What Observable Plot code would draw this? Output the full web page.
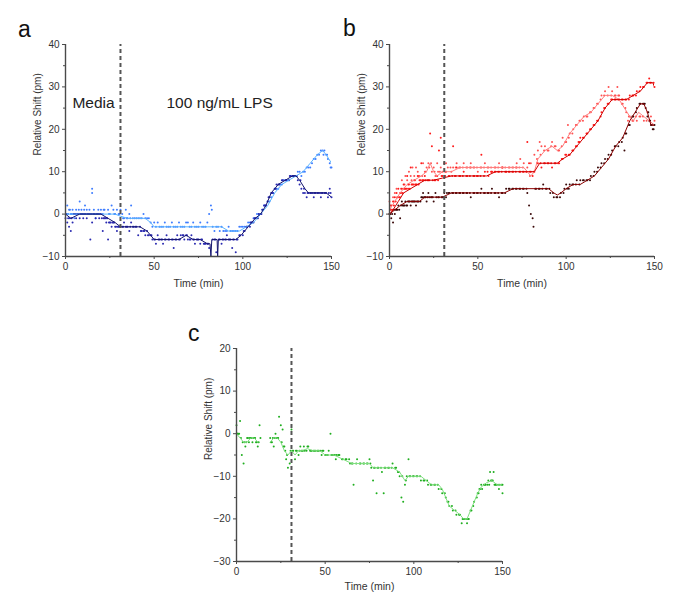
<!DOCTYPE html>
<html><head><meta charset="utf-8">
<script src="https://cdn.jsdelivr.net/npm/d3@7"></script>
<script src="https://cdn.jsdelivr.net/npm/@observablehq/plot@0.6"></script>
<style>
body{margin:0;background:#fff;font-family:"Liberation Sans",Arial,sans-serif;}
#wrap{position:relative;width:697px;height:604px;background:#fff;overflow:hidden;}
.panel{position:absolute;overflow:hidden;}
.letter{position:absolute;font-size:23px;color:#111;line-height:1;}
</style></head><body>
<div id="wrap">
  <div class="letter" style="left:18px;top:18px;">a</div>
  <div class="letter" style="left:343px;top:17px;">b</div>
  <div class="letter" style="left:188px;top:322px;">c</div>
</div>
<script>
// ---------- data (time in min, relative shift in pm) ----------
const lpsTime = 31;
const xTicks = [0, 50, 100, 150];
const xMinor = [25, 75, 125];
const yTicksAB = [-10, 0, 10, 20, 30, 40];
const yMinorAB = [-5, 5, 15, 25, 35];
const yTicksC = [-30, -20, -10, 0, 10, 20];
const yMinorC = [-25, -15, -5, 5, 15];
const annotA = [{t: 15.8, v: 26.3, label: "Media"}, {t: 86.9, v: 26.3, label: "100 ng/mL LPS"}];

// panel a – light blue cell
const aLightLine = [[0,0],[10,0],[20,0],[28,0],[31,-0.5],[35,-1],[45,-1],[48,-2],[50,-3],[60,-3],[70,-3],[80,-3],[88,-3],[92,-4],[98,-4],[102,-3],[106,-2],[110,0],[114,2],[118,5],[122,7],[126,8],[130,9],[134,10],[138,12],[142,14],[145,15],[147,14],[150,12]];
const aLightPts = [[1,2],[2,1],[3,0],[4,1],[5,-1],[6,1],[8,3],[9,1],[10,0],[11,2],[12,1],[14,0],[15,6],[15,5],[16,1],[17,-1],[18,0],[20,1],[21,0],[22,1],[23,-1],[24,1],[25,0],[26,2],[27,1],[28,0],[29,1],[30,0],[31,1],[32,0],[33,-1],[34,1],[35,-1],[36,0],[37,2],[38,-1],[40,-1],[42,-1],[44,0],[46,-1],[48,-2],[49,-3],[50,-2],[52,-2],[54,-3],[56,-2],[58,-3],[60,-2],[62,-3],[64,-2],[66,-3],[68,-2],[70,-3],[72,-2],[74,-3],[76,-2],[78,-3],[80,-2],[81,0],[82,2],[82.5,1],[83,-3],[84,-4],[86,-3],[88,-3],[90,-4],[92,-3],[94,-4],[96,-4],[98,-3],[100,-3],[102,-3],[104,-2],[106,-1],[108,0],[110,0],[112,2],[114,3],[116,4],[117,5],[118,6],[120,6],[121,7],[123,8],[125,8],[127,9],[129,9],[131,10],[133,9],[135,10],[137,11],[139,12],[141,13],[142,14],[143,14],[144,15],[146,15],[147,14],[148,13],[149,12],[150,11]];
const aLightPts2 = [[0.5,0],[1.5,0],[2.5,1],[3.5,0],[4.5,0],[5.5,0],[6.5,0],[7.5,1],[8.5,0],[9.5,0],[10.5,1],[12.5,0],[13.5,1],[16.5,0],[18.5,1],[19.5,0],[21.5,1],[24.5,0],[27.5,0],[30.5,0],[32.5,-1],[34.5,-1],[36.5,-1],[39,-1],[41,-1],[43,-1],[45,-1],[47,-1],[51,-3],[53,-3],[55,-3],[57,-3],[59,-3],[61,-3],[63,-3],[65,-3],[67,-3],[69,-2],[71,-3],[73,-3],[75,-3],[77,-3],[79,-3],[85,-3],[87,-4],[89,-4],[91,-4],[93,-4],[95,-4],[97,-4],[99,-3],[101,-3],[103,-2],[105,-2],[107,-1],[109,0],[111,1],[113,2],[115,3],[119,6],[122,7],[124,8],[126,8],[128,9],[130,9],[132,10],[134,10],[136,11],[138,11],[140,13],[145,15],[145.5,14],[147.5,14],[149.5,11]];
// panel a – dark blue cell
const aDarkLine = [[0,0],[3,-1],[8,0],[15,0],[20,0],[24,-1],[28,-2],[31,-3],[38,-3],[42,-3],[46,-4],[50,-6],[55,-6],[60,-6],[64,-6],[68,-5],[72,-6],[76,-6],[80,-7],[81.5,-7],[82,-10],[82.5,-6],[85.5,-6],[85.8,-10],[86.2,-6],[90,-6],[96,-6],[99,-5],[103,-3],[107,-1],[110,0],[113,2],[116,5],[120,7],[124,8],[128,9],[130,9],[132,8],[135,6],[137,5],[142,5],[147,5],[150,4]];
const aDarkPts = [[0,-1],[1,-2],[2,-3],[3,-4],[4,-2],[5,0],[6,-1],[7,0],[8,-1],[9,0],[10,-1],[11,0],[12,-1],[13,0],[14,-6],[15,-2],[16,0],[17,-1],[18,0],[19,-1],[20,0],[21,-4],[22,-1],[23,-2],[24,-6],[25,-2],[26,-3],[27,-2],[28,-3],[29,-4],[30,-3],[31,-6],[32,-3],[33,-2],[34,-3],[35,-3],[36,-4],[37,-2],[38,-3],[40,-3],[41,-5],[42,-3],[43,-4],[44,-4],[45,-5],[46,-4],[47,-5],[48,-5],[49,-6],[50,-6],[51,-7],[52,-5],[53,-6],[54,-6],[55,-7],[56,-6],[57,-5],[58,-6],[60,-6],[61,-8],[62,-6],[63,-5],[64,-6],[65,-5],[66,-5],[67,-6],[68,-5],[69,-6],[70,-6],[71,-5],[72,-6],[73,-7],[74,-6],[75,-6],[76,-7],[77,-6],[78,-7],[79,-7],[80,-7],[81,-8],[83,-6],[84,-6],[85,-9],[87,-6],[88,-7],[89,-6],[90,-6],[91,-5],[92,-6],[93,-6],[94,-8],[95,-6],[96,-9],[97,-6],[98,-5],[100,-5],[101,-4],[102,-3],[104,-3],[105,-2],[106,-2],[107,-1],[108,-1],[109,0],[110,0],[111,1],[112,2],[113,2],[114,3],[115,4],[116,5],[117,5],[118,6],[119,7],[120,7],[122,8],[124,8],[126,8],[127,9],[128,9],[129,9],[130,9],[131,8],[132,7],[133,6],[134,5],[135,5],[136,4],[137,5],[138,5],[140,4],[141,5],[142,5],[144,4],[145,5],[146,5],[147,5],[148,4],[149,6],[150,4]];
const aDarkPts2 = [[0.5,0],[1.5,-1],[2.5,-1],[3.5,-1],[4.5,0],[5.5,0],[6.5,0],[7.5,0],[8.5,0],[9.5,0],[10.5,0],[11.5,0],[12.5,0],[13.5,0],[14.5,0],[15.5,0],[16.5,0],[17.5,0],[18.5,0],[19.5,0],[20.5,-1],[21.5,-1],[22.5,-1],[23.5,-1],[24.5,-2],[25.5,-2],[26.5,-2],[27.5,-2],[28.5,-3],[29.5,-3],[30.5,-3],[32.5,-3],[34.5,-3],[36.5,-3],[38.5,-3],[39.5,-3],[42.5,-4],[44.5,-4],[46.5,-5],[48.5,-5],[50.5,-6],[52.5,-6],[54.5,-6],[56.5,-6],[58.5,-6],[60.5,-6],[62.5,-6],[64.5,-6],[66.5,-5],[68.5,-5],[70.5,-6],[72.5,-6],[74.5,-6],[76.5,-6],[78.5,-7],[80.5,-7],[84.5,-6],[86.5,-6],[88.5,-6],[90.5,-6],[92.5,-6],[94.5,-6],[96.5,-6],[98.5,-5],[100.5,-4],[102.5,-3],[104.5,-2],[106.5,-1],[108.5,-1],[110.5,0],[112.5,2],[114.5,4],[116.5,5],[118.5,6],[120.5,7],[122.5,8],[124.5,8],[126.5,9],[128.5,9],[130.5,9],[132.5,8],[134.5,6],[136.5,5],[138.5,5],[139.5,5],[140.5,5],[142.5,5],[143.5,5],[144.5,5],[146.5,5],[148.5,5],[149.5,5]];

// panel b – red cell
const bRedLine = [[0,0],[2,1],[5,3],[8,5],[12,6],[16,7],[20,8],[25,8],[30,8.5],[35,9],[45,9],[55,9],[60,10],[70,10],[80,10],[82,10],[85,12],[95,12],[98,13],[102,14],[106,16],[110,18],[114,20],[118,22],[122,25],[126,27],[130,27],[134,27],[138,28],[142,29],[146,31],[149,31],[150,30]];
const bRedPts = [[0,0],[1,2],[2,3],[3,4],[4,5],[5,6],[6,5],[7,6],[8,7],[9,6],[10,9],[11,7],[12,11],[13,7],[14,8],[15,7],[16,9],[17,8],[18,12],[19,8],[20,9],[22,8],[23,19],[24,16],[26,8],[27,9],[28,15],[29,18],[30,9],[31,12],[32,10],[34,9],[36,16],[37,9],[38,11],[40,9],[42,10],[44,9],[46,11],[48,9],[50,9],[52,14],[54,10],[56,9],[58,10],[60,10],[62,10],[64,11],[66,10],[68,10],[70,10],[72,11],[74,10],[76,10],[78,17],[79,12],[80,10],[81,9],[82,10],[84,12],[86,11],[88,12],[90,12],[92,11],[94,12],[96,12],[98,13],[100,14],[102,14],[104,15],[106,16],[107,17],[108,18],[110,18],[112,19],[114,20],[116,21],[118,22],[120,24],[122,25],[124,26],[126,27],[128,27],[130,27],[132,27],[134,27],[136,28],[138,28],[140,29],[142,30],[144,30],[146,31],[147,32],[148,31],[150,30]];
const bRedPts2 = [[0.5,1],[1.5,1],[2.5,2],[3.5,3],[4.5,4],[5.5,4],[6.5,5],[7.5,5],[8.5,6],[9.5,6],[10.5,6],[11.5,6],[12.5,7],[13.5,7],[14.5,7],[15.5,7],[16.5,7],[17.5,8],[18.5,8],[19.5,8],[20.5,8],[21.5,8],[22.5,8],[24.5,8],[25.5,8],[27.5,8],[29.5,9],[31.5,9],[33.5,9],[35.5,9],[37.5,9],[39.5,9],[41.5,9],[43.5,9],[45.5,9],[47.5,9],[49.5,9],[51.5,9],[53.5,9],[55.5,10],[57.5,10],[59.5,10],[61.5,10],[63.5,10],[65.5,10],[67.5,10],[69.5,10],[71.5,10],[73.5,10],[75.5,10],[77.5,10],[79.5,10],[83.5,12],[85.5,12],[87.5,12],[89.5,12],[91.5,12],[93.5,12],[95.5,12],[97.5,13],[99.5,14],[101.5,14],[103.5,15],[105.5,16],[107.5,17],[109.5,18],[111.5,19],[113.5,20],[115.5,21],[117.5,22],[119.5,23],[121.5,25],[123.5,26],[125.5,27],[127.5,27],[129.5,27],[131.5,27],[133.5,27],[135.5,27],[137.5,28],[139.5,28],[141.5,29],[143.5,30],[145.5,31],[147.5,31],[149.5,31]];
// panel b – pink cell
const bPinkLine = [[0,1],[3,3],[6,5],[10,7],[14,8],[18,9],[21,10],[23,12],[25,10],[27,9],[30,10],[35,10],[40,11],[50,11],[60,11],[70,11],[76,11],[80,9],[82,10],[84,13],[88,15],[92,16],[95,15],[98,16],[102,19],[106,21],[110,23],[114,24],[118,26],[122,28],[126,28],[130,27],[133,25],[136,23],[138,22],[141,24],[144,23],[147,22],[150,21]];
const bPinkPts = [[0,3],[1,1],[2,4],[3,5],[4,6],[6,4],[7,8],[8,6],[9,9],[10,8],[11,10],[12,9],[13,11],[14,9],[15,11],[16,10],[17,9],[19,12],[20,10],[21,11],[22,12],[24,10],[25,11],[26,9],[27,12],[29,11],[30,10],[32,12],[33,11],[35,10],[36,11],[38,12],[40,11],[42,12],[44,11],[46,12],[48,11],[50,10],[52,11],[54,12],[56,11],[58,10],[60,11],[62,12],[64,11],[66,10],[68,11],[70,11],[72,12],[74,13],[76,12],[78,11],[80,12],[82,14],[84,15],[85,17],[86,16],[88,16],[90,15],[92,17],[94,16],[96,15],[98,18],[100,17],[101,21],[102,19],[104,20],[106,21],[108,22],[110,23],[112,23],[114,24],[116,25],[118,26],[120,28],[122,29],[124,30],[126,29],[128,28],[129,30],[130,28],[132,26],[134,24],[135,22],[136,23],[138,22],[140,22],[142,23],[144,22],[146,24],[148,23],[150,22]];
const bPinkPts2 = [[0.5,2],[2.5,3],[4.5,4],[6.5,6],[8.5,7],[10.5,7],[12.5,8],[14.5,8],[16.5,9],[18.5,9],[20.5,10],[22.5,11],[23.5,12],[25.5,10],[27.5,10],[28.5,10],[31.5,10],[34.5,11],[37.5,11],[39.5,11],[41.5,11],[43.5,11],[45.5,11],[47.5,11],[49.5,11],[51.5,11],[53.5,11],[55.5,11],[57.5,11],[59.5,11],[61.5,11],[63.5,11],[65.5,11],[67.5,11],[69.5,11],[71.5,11],[73.5,11],[75.5,11],[77.5,10],[79.5,9],[81.5,10],[83.5,13],[85.5,14],[87.5,15],[89.5,15],[91.5,16],[93.5,16],[95.5,15],[97.5,16],[99.5,17],[101.5,18],[103.5,19],[105.5,21],[107.5,22],[109.5,22],[111.5,23],[113.5,24],[115.5,25],[117.5,26],[119.5,27],[121.5,28],[123.5,28],[125.5,28],[127.5,28],[129.5,28],[131.5,26],[133.5,25],[135.5,23],[137.5,22],[139.5,23],[141.5,23],[143.5,23],[145.5,22],[147.5,22],[149.5,21]];
// panel b – dark cell
const bDarkLine = [[0,0],[3,1],[6,2],[10,3],[14,3],[17,3],[20,4],[25,4],[30,4],[35,5],[45,5],[55,5],[65,5],[70,6],[75,6],[85,6],[90,6],[93,5],[95,4.5],[97,5],[100,6],[104,7],[108,7],[112,8],[116,9],[120,11],[124,13],[128,16],[132,18],[136,22],[139,24],[142,26],[144,26],[146,24],[148,21],[150,21]];
const bDarkPts = [[0,0],[1,-1],[2,-2],[3,0],[4,1],[5,2],[6,-1],[7,3],[8,2],[9,3],[10,2],[11,3],[12,2],[13,3],[14,3],[15,2],[16,3],[18,4],[19,5],[20,4],[21,3],[22,5],[24,4],[25,3],[26,5],[28,4],[30,4],[31,5],[32,4],[34,5],[36,5],[38,5],[40,5],[42,5],[44,5],[46,4],[48,5],[50,5],[52,6],[54,5],[56,5],[58,6],[60,5],[62,4],[64,5],[66,6],[68,6],[70,6],[72,6],[74,6],[76,6],[78,5],[79,2],[80,0],[81,-1],[81.5,-3],[83,6],[85,6],[87,7],[89,6],[91,5],[93,4],[95,4],[97,5],[99,6],[100,7],[102,7],[104,7],[106,8],[108,8],[110,8],[112,8],[114,9],[116,10],[118,11],[120,12],[122,13],[124,14],[126,15],[128,16],[130,17],[132,18],[133,15],[134,19],[136,21],[138,23],[140,25],[142,26],[144,26],[145,25],[146,23],[147,22],[148,21],[149,20],[150,21]];
const bDarkPts2 = [[0.5,0],[1.5,0],[2.5,1],[3.5,1],[4.5,1],[5.5,1],[6.5,2],[7.5,2],[8.5,2],[9.5,2],[10.5,3],[11.5,3],[12.5,3],[13.5,3],[14.5,3],[15.5,3],[16.5,3],[17.5,3],[18.5,4],[19.5,4],[20.5,4],[21.5,4],[22.5,4],[23.5,4],[24.5,4],[26.5,4],[27.5,4],[29.5,4],[30.5,4],[32.5,5],[33.5,5],[35.5,5],[37.5,5],[39.5,5],[41.5,5],[43.5,5],[45.5,5],[47.5,5],[49.5,5],[51.5,5],[53.5,5],[55.5,5],[57.5,5],[59.5,5],[61.5,5],[63.5,5],[65.5,5],[67.5,6],[69.5,6],[71.5,6],[73.5,6],[75.5,6],[77.5,6],[82.5,6],[84.5,6],[86.5,6],[88.5,6],[90.5,6],[92.5,5],[94.5,4],[96.5,4],[98.5,5],[100.5,6],[101.5,6],[103.5,7],[105.5,7],[107.5,7],[109.5,8],[111.5,8],[113.5,8],[115.5,9],[117.5,10],[119.5,11],[121.5,12],[123.5,13],[125.5,14],[127.5,16],[129.5,16],[131.5,17],[133.5,19],[135.5,21],[137.5,23],[139.5,24],[141.5,26],[143.5,26],[144.5,26],[146.5,24],[147.5,22],[148.5,21],[149.5,20]];

// panel c – green cell
const cLine = [[0,0],[2,-1],[4,-2],[6,-2],[8,-1],[10,-1],[12,-2],[15,null],[19,-2],[21,-1],[23,-1],[25,-2],[27,-4],[29,-5],[31,-4],[33,-5],[35,-4],[37,-4],[40,-3.5],[43,-4],[47,-4],[50,-5],[55,-5],[60,-6],[65,-7],[70,-7],[75,-7],[77,-8],[80,-8],[85,-8],[88,-8],[92,-9],[95,-11],[97,-10],[100,-10],[104,-10],[107,-11],[110,-12],[114,-12],[116,-13],[118,-15],[120,-17],[123,-18],[126,-19],[128,-20],[130,-20],[132,-18],[134,-16],[136,-14],[138,-12.5],[141,-11.5],[144,-11],[147,-12],[150,-12]];
const cPts = [[0,2],[0.5,0],[1,0],[2,3],[3,-5],[4,-7],[5,-3],[6,-1],[7,-2],[8,-1],[9,-2],[10,-1],[11,-2],[12,-3],[13,2],[13.5,-1],[19,-1],[20,-2],[21,-3],[22,0],[23,-1],[24,4],[25,2],[26,1],[27,-3],[28,-6],[29,-8],[30,-7],[31,1],[32,-4],[33,-6],[34,-4],[35,-5],[36,-3],[37,-4],[38,-3],[40,-3],[42,-4],[44,-4],[46,-4],[48,-5],[49,-4],[50,-5],[52,-4],[53,0],[54,-5],[55,-5],[56,-6],[58,-5],[60,-6],[62,-6],[64,-7],[65,-7],[66,-12],[68,-6],[70,-7],[72,-7],[74,-7],[75,-6],[76,-8],[77,-11],[78,-8],[79,-14],[80,-8],[82,-9],[83,-14],[84,-8],[86,-8],[88,-7],[90,-8],[91,-9],[92,-10],[93,-15],[94,-16],[95,-12],[96,-10],[97,-6],[98,-10],[100,-10],[102,-10],[104,-11],[106,-11],[108,-12],[110,-12],[112,-12],[114,-13],[116,-14],[118,-15],[119,-16],[120,-17],[122,-18],[124,-19],[126,-19],[127,-21],[128,-20],[130,-21],[131,-20],[132,-18],[134,-16],[136,-14],[137,-13],[138,-12],[140,-12],[142,-11],[143,-9],[144,-11],[145,-9],[146,-12],[148,-13],[150,-12],[150,-14]];
const cPts2 = [[0.5,0],[1.5,0],[2.5,-1],[3.5,-2],[4.5,-2],[5.5,-2],[6.5,-1],[7.5,-1],[8.5,-1],[9.5,-1],[10.5,-1],[11.5,-2],[12.5,-2],[19.5,-2],[20.5,-1],[21.5,-1],[22.5,-1],[23.5,-1],[25.5,-2],[26.5,-3],[27.5,-4],[28.5,-5],[30.5,-4],[31.5,-4],[33.5,-4],[35.5,-4],[36.5,-4],[37.5,-4],[38.5,-4],[39.5,-4],[40.5,-3],[41.5,-4],[42.5,-4],[43.5,-4],[44.5,-4],[45.5,-4],[46.5,-4],[47.5,-4],[48.5,-4],[50.5,-5],[51.5,-5],[53.5,-5],[55.5,-5],[56.5,-5],[57.5,-5],[59.5,-6],[61.5,-6],[63.5,-6],[65.5,-7],[67.5,-7],[69.5,-7],[71.5,-7],[73.5,-7],[75.5,-7],[77.5,-8],[79.5,-8],[81.5,-8],[83.5,-8],[85.5,-8],[87.5,-8],[89.5,-8],[91.5,-9],[93.5,-10],[95.5,-11],[97.5,-10],[99.5,-10],[101.5,-10],[103.5,-10],[105.5,-11],[107.5,-11],[109.5,-12],[111.5,-12],[113.5,-12],[115.5,-13],[117.5,-14],[119.5,-16],[121.5,-17],[123.5,-18],[125.5,-19],[127.5,-20],[128.5,-20],[129.5,-20],[130.5,-20],[132.5,-18],[133.5,-17],[135.5,-15],[136.5,-14],[137.5,-13],[138.5,-13],[139.5,-12],[140.5,-12],[141.5,-12],[142.5,-12],[143.5,-11],[144.5,-11],[145.5,-12],[146.5,-12],[147.5,-12],[148.5,-12],[149.5,-12]];

// ---------- drawing ----------
const rows = arr => arr.map(([t, v]) => ({t, v}));
const axisColor = "#4a4a4a";

function panel({left, top, width, height, margins, yDomain, yTicks, yMinor, series, annotations, xLabelDy}) {
  const [mt, mr, mb, ml] = margins;
  const marks = [];
  for (const s of series) marks.push(Plot.dot(rows(s.pts), {x: "t", y: "v", r: 1, fill: s.ptColor, stroke: "none"}));
  for (const s of series) marks.push(Plot.line(rows(s.line), {x: "t", y: "v", stroke: s.lineColor, strokeWidth: 1, clip: true}));
  marks.push(
    Plot.ruleX([lpsTime], {y1: yDomain[0], y2: yDomain[1], stroke: "#555", strokeWidth: 2, strokeDasharray: "4,3"}),
    Plot.ruleX([0], {stroke: axisColor, strokeWidth: 1.4}),
    Plot.ruleY([yDomain[0]], {stroke: axisColor, strokeWidth: 1.4}),
    Plot.axisY(yTicks, {tickSize: 3, tickPadding: 3, label: null, stroke: axisColor, fontSize: 10}),
    Plot.axisY(yMinor, {tickSize: 2, tickFormat: () => "", label: null, stroke: axisColor}),
    Plot.axisX(xTicks, {tickSize: 3, tickPadding: 3, label: null, stroke: axisColor, fontSize: 10}),
    Plot.axisX(xMinor, {tickSize: 2, tickFormat: () => "", label: null, stroke: axisColor}),
    Plot.text(["Relative Shift (pm)"], {frameAnchor: "left", rotate: -90, dx: -28, dy: 5, fontSize: 10, fill: "#333"}),
    Plot.text(["Time (min)"], {frameAnchor: "bottom", lineAnchor: "middle", dy: xLabelDy, fontSize: 10.5, fill: "#333"})
  );
  if (annotations) marks.push(Plot.text(annotations, {x: "t", y: "v", text: "label", fontSize: 15.5, fill: "#222"}));
  const chart = Plot.plot({
    width, height,
    marginTop: mt, marginRight: mr, marginBottom: mb, marginLeft: ml,
    x: {domain: [0, 150], axis: null},
    y: {domain: yDomain, axis: null},
    style: {fontFamily: "Liberation Sans, Arial, sans-serif", fontSize: "10px", color: "#333", background: "transparent", overflow: "visible"},
    marks
  });
  const div = document.createElement("div");
  div.className = "panel";
  Object.assign(div.style, {left: left + "px", top: top + "px", width: width + "px", height: height + "px"});
  div.appendChild(chart);
  document.getElementById("wrap").appendChild(div);
}

panel({
  left: 0, top: 0, width: 340, height: 300, margins: [44, 9, 44, 65],
  yDomain: [-10, 40], yTicks: yTicksAB, yMinor: yMinorAB, xLabelDy: 27,
  annotations: annotA,
  series: [
    {pts: aLightPts.concat(aLightPts2), line: aLightLine, ptColor: "#3d7cff", lineColor: "#5ab4ff"},
    {pts: aDarkPts.concat(aDarkPts2), line: aDarkLine, ptColor: "#2a2ab0", lineColor: "#15156e"}
  ]
});
panel({
  left: 340, top: 0, width: 357, height: 300, margins: [44, 43, 44, 49],
  yDomain: [-10, 40], yTicks: yTicksAB, yMinor: yMinorAB, xLabelDy: 27,
  series: [
    {pts: bPinkPts.concat(bPinkPts2), line: bPinkLine, ptColor: "#ff5050", lineColor: "#ff8080"},
    {pts: bRedPts.concat(bRedPts2), line: bRedLine, ptColor: "#ff1a1a", lineColor: "#d00000"},
    {pts: bDarkPts.concat(bDarkPts2), line: bDarkLine, ptColor: "#3a0808", lineColor: "#8b0000"}
  ]
});
panel({
  left: 180, top: 300, width: 335, height: 304, margins: [48, 13, 43, 56],
  yDomain: [-30, 20], yTicks: yTicksC, yMinor: yMinorC, xLabelDy: 25,
  series: [
    {pts: cPts.concat(cPts2), line: cLine, ptColor: "#1fae1f", lineColor: "#80e080"}
  ]
});
</script>
</body></html>
